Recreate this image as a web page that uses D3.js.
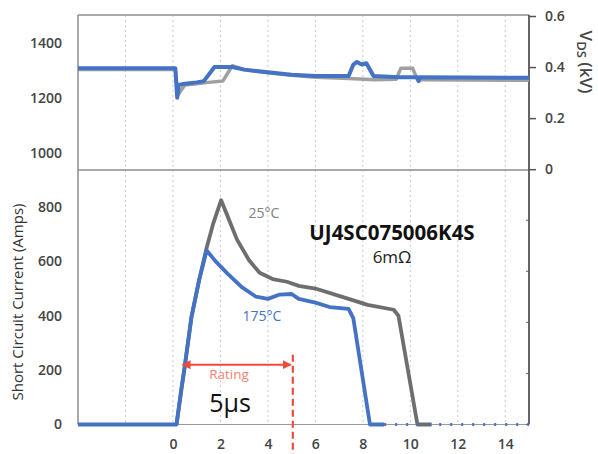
<!DOCTYPE html>
<html><head><meta charset="utf-8">
<script src="https://cdn.jsdelivr.net/npm/d3@7/dist/d3.min.js"></script>
<style>body{margin:0;background:#fff}svg{display:block}</style>
</head><body>
<svg id="c" width="598" height="454"></svg>
<script>
// ---- data ----
const xTicks = [0, 2, 4, 6, 8, 10, 12, 14];
const xGrid = [-2, 0, 2, 4, 6, 8, 10, 12, 14];
const leftTopTicks = [1000, 1200, 1400];
const leftBottomTicks = [0, 200, 400, 600, 800];
const rightTicksLabeled = [0, 0.2, 0.4, 0.6];
const rightTicksInner = [-1.0, -0.8, -0.6, -0.4, -0.2];

// V_DS (kV) traces
const vdsBlue = [[-4,0.395],[0.1,0.395],[0.18,0.28],[0.25,0.33],[0.5,0.335],[1.0,0.34],[1.3,0.345],[1.75,0.40],[2.5,0.40],[3.0,0.39],[4.0,0.38],[5.0,0.37],[6.0,0.365],[7.4,0.365],[7.6,0.41],[7.75,0.42],[7.95,0.41],[8.15,0.415],[8.45,0.365],[9.5,0.36],[10.3,0.36],[10.35,0.345],[10.4,0.36],[15,0.358]];
const vdsGray = [[-4,0.39],[0.1,0.39],[0.2,0.29],[0.5,0.33],[1.0,0.335],[1.5,0.34],[2.1,0.345],[2.5,0.405],[3.0,0.39],[4.0,0.378],[5.0,0.368],[6.0,0.36],[7.4,0.355],[8.5,0.35],[9.4,0.352],[9.6,0.395],[10.1,0.395],[10.3,0.35],[15,0.348]];

// Short circuit current (A)
const iBlue175 = [[-4,0],[0.15,0],[0.35,130],[0.5,215],[0.78,395],[1.1,530],[1.42,640],[1.8,600],[2.3,555],[2.9,505],[3.5,470],[4.0,462],[4.5,478],[5.0,480],[5.3,462],[6.0,448],[6.6,432],[7.4,425],[7.6,390],[8.3,0],[8.9,0]];
const iGray25 = [[0.15,0],[0.5,215],[0.78,395],[1.1,530],[1.42,650],[1.7,740],[2.03,825],[2.4,745],[2.7,680],[3.2,605],[3.65,558],[4.2,535],[4.8,525],[5.3,510],[6.0,500],[7.3,465],[8.2,440],[9.3,422],[9.5,400],[10.3,0],[10.9,0]];
const iBlueTail = [[8.9,0],[15,0]];

const ratingStart = 0.4, ratingEnd = 5.05, ratingLevel = 220;

// ---- layout ----
const L = 78, R = 529, T = 15, MID = 170, B = 424.5;
const svg = d3.select("#c");
const font = "'Open Sans', sans-serif";
const x = d3.scaleLinear().domain([-4, 15]).range([L, R]);
const yTopL = d3.scaleLinear().domain([938, 1502]).range([MID, T]);
const yKV = d3.scaleLinear().domain([-1.0, 0.6]).range([B, T + 1]);
const yI = d3.scaleLinear().domain([0, 936]).range([B, MID]);

// grid
svg.append("g").selectAll("line").data(xGrid).join("line")
  .attr("x1", d => x(d)).attr("x2", d => x(d))
  .attr("y1", T).attr("y2", B)
  .attr("stroke", "#c8c8c8").attr("stroke-width", 1).attr("stroke-dasharray", "2,3");

// frame
const frame = svg.append("g").attr("stroke", "#8c8c8c").attr("stroke-width", 1.5);
frame.append("line").attr("x1", L).attr("x2", R).attr("y1", T).attr("y2", T);
frame.append("line").attr("x1", L).attr("x2", R).attr("y1", MID).attr("y2", MID);
frame.append("line").attr("x1", L).attr("x2", L).attr("y1", T).attr("y2", B);
svg.append("line").attr("x1", L).attr("x2", R).attr("y1", B).attr("y2", B)
  .attr("stroke", "#9a9a9a").attr("stroke-width", 1);

// right axis
const rAx = svg.append("g").attr("transform", `translate(${R},0)`)
  .call(d3.axisRight(yKV).tickValues(rightTicksLabeled).tickSize(7).tickPadding(9)
    .tickFormat(d => d === 0 ? "0" : d3.format(".1f")(d)));
rAx.select(".domain").remove();
rAx.selectAll("line").attr("stroke", "#555").attr("stroke-width", 1.5);
rAx.selectAll("text").attr("font-family", font).attr("font-size", 14).attr("font-weight", 600).attr("fill", "#444");
svg.append("g").selectAll("line").data(rightTicksInner).join("line")
  .attr("x1", R - 3).attr("x2", R).attr("y1", d => yKV(d)).attr("y2", d => yKV(d))
  .attr("stroke", "#666").attr("stroke-width", 1);
svg.append("line").attr("x1", R).attr("x2", R).attr("y1", T).attr("y2", B)
  .attr("stroke", "#555").attr("stroke-width", 1.8);

// left axes (labels only)
function leftAxis(scale, ticks) {
  const g = svg.append("g").attr("transform", `translate(${L},0)`)
    .call(d3.axisLeft(scale).tickValues(ticks).tickSize(0).tickPadding(16).tickFormat(d3.format("d")));
  g.select(".domain").remove();
  g.selectAll("text").attr("font-family", font).attr("font-size", 14).attr("font-weight", 600).attr("fill", "#444");
}
leftAxis(yTopL, leftTopTicks);
leftAxis(yI, leftBottomTicks);

// x tick labels
const xAx = svg.append("g").attr("transform", `translate(0,${B})`)
  .call(d3.axisBottom(x).tickValues(xTicks).tickSize(0).tickPadding(15).tickFormat(d3.format("d")));
xAx.select(".domain").remove();
xAx.selectAll("text").attr("font-family", font).attr("font-size", 14).attr("font-weight", 600).attr("fill", "#444");

// lines
const lineKV = d3.line().x(d => x(d[0])).y(d => yKV(d[1]));
const lineI = d3.line().x(d => x(d[0])).y(d => yI(d[1]));
const BLUE = "#4472c4";
svg.append("path").attr("d", lineKV(vdsGray)).attr("fill", "none").attr("stroke", "#a0a0a0").attr("stroke-width", 3.5).attr("stroke-linejoin", "round");
svg.append("path").attr("d", lineKV(vdsBlue)).attr("fill", "none").attr("stroke", BLUE).attr("stroke-width", 4).attr("stroke-linejoin", "round");
svg.append("path").attr("d", lineI(iGray25)).attr("fill", "none").attr("stroke", "#6e6e6e").attr("stroke-width", 3.8).attr("stroke-linejoin", "round");
svg.append("path").attr("d", lineI(iBlue175)).attr("fill", "none").attr("stroke", BLUE).attr("stroke-width", 3.8).attr("stroke-linejoin", "round");
svg.append("path").attr("d", lineI(iBlueTail)).attr("fill", "none").attr("stroke", BLUE).attr("stroke-width", 3).attr("stroke-dasharray", "2,9");

// axis titles
svg.append("text").attr("transform", `translate(23,302) rotate(-90)`)
  .attr("text-anchor", "middle").attr("font-family", font).attr("font-size", 15).attr("fill", "#333")
  .text("Short Circuit Current (Amps)");
const vt = svg.append("text").attr("transform", `translate(580,62) rotate(90)`)
  .attr("text-anchor", "middle").attr("font-family", font).attr("font-size", 17).attr("font-weight", 600).attr("fill", "#444");
vt.append("tspan").text("V");
vt.append("tspan").attr("font-size", 13).attr("dy", 3).text("DS");
vt.append("tspan").attr("dy", -3).text(" (kV)");

// annotations
svg.append("text").attr("x", 264).attr("y", 218).attr("text-anchor", "middle")
  .attr("font-family", font).attr("font-size", 14).attr("fill", "#808080").text("25°C");
svg.append("text").attr("x", 262).attr("y", 321).attr("text-anchor", "middle")
  .attr("font-family", font).attr("font-size", 14).attr("fill", BLUE).text("175°C");
svg.append("text").attr("x", 392).attr("y", 240).attr("text-anchor", "middle")
  .attr("font-family", font).attr("font-size", 20.5).attr("font-weight", 700).attr("fill", "#111").text("UJ4SC075006K4S");
svg.append("text").attr("x", 392).attr("y", 263).attr("text-anchor", "middle")
  .attr("font-family", font).attr("font-size", 17).attr("fill", "#222").text("6mΩ");

// rating arrow
const RED = "#ee4a3c";
const defs = svg.append("defs");
defs.append("marker").attr("id", "ah").attr("viewBox", "0 0 10 10").attr("refX", 9).attr("refY", 5)
  .attr("markerWidth", 9).attr("markerHeight", 9).attr("markerUnits", "userSpaceOnUse").attr("orient", "auto-start-reverse")
  .append("path").attr("d", "M0,0L10,5L0,10z").attr("fill", RED);
svg.append("line").attr("x1", x(ratingStart)).attr("x2", x(ratingEnd) - 2)
  .attr("y1", yI(ratingLevel)).attr("y2", yI(ratingLevel))
  .attr("stroke", RED).attr("stroke-width", 2)
  .attr("marker-start", "url(#ah)").attr("marker-end", "url(#ah)");
svg.append("line").attr("x1", x(ratingEnd)).attr("x2", x(ratingEnd))
  .attr("y1", yI(ratingLevel) - 10).attr("y2", 454)
  .attr("stroke", RED).attr("stroke-width", 2.2).attr("stroke-dasharray", "7,4");
svg.append("text").attr("x", 229).attr("y", 379).attr("text-anchor", "middle")
  .attr("font-family", font).attr("font-size", 13.5).attr("fill", "#f3826f").text("Rating");
svg.append("text").attr("x", 230).attr("y", 412).attr("text-anchor", "middle")
  .attr("font-family", font).attr("font-size", 25).attr("fill", "#111").text("5μs");
</script>
</body></html>
